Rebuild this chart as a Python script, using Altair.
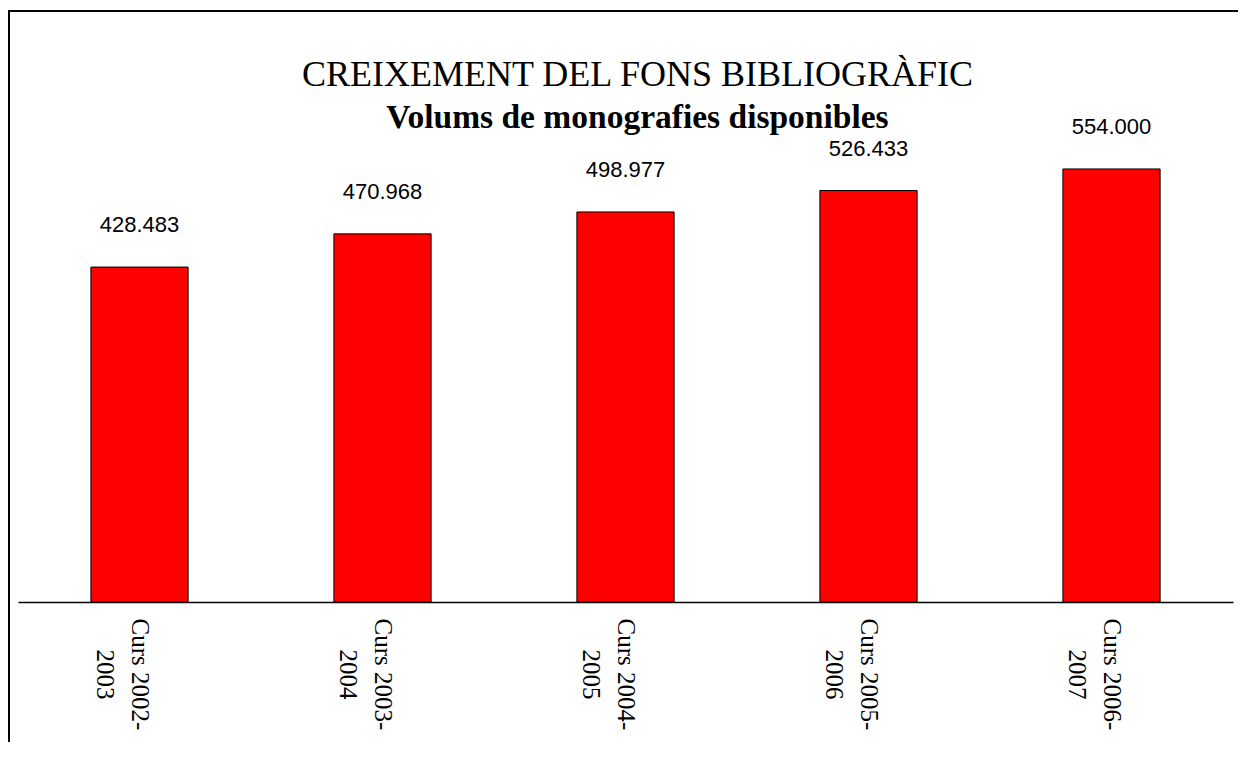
import altair as alt
import pandas as pd

categories = ["Curs 2002-2003", "Curs 2003-2004", "Curs 2004-2005", "Curs 2005-2006", "Curs 2006-2007"]
volums = [428483, 470968, 498977, 526433, 554000]

df = pd.DataFrame({"curs": categories, "volums": volums})
df["etiqueta"] = [f"{v:,}".replace(",", ".") for v in volums]

W, H = 1215, 469

x = alt.X("curs:N", sort=categories, title=None,
          scale=alt.Scale(paddingInner=0.6, paddingOuter=0.3),
          axis=alt.Axis(labelAngle=90, labelAlign="center", labelBaseline="middle",
                        labelPadding=72, labelFont="Liberation Serif", labelFontSize=25,
                        labelLineHeight=35, labelColor="#000", ticks=False,
                        domainColor="#000", domainWidth=1.5,
                        labelExpr="[slice(datum.value, 0, 10), slice(datum.value, 10)]"))
y = alt.Y("volums:Q", title=None, scale=alt.Scale(domain=[0, 600000]), axis=None)

base = alt.Chart(df)
bars = base.mark_bar(color="#FF0000", stroke="#000", strokeWidth=1).encode(x=x, y=y)
labels = base.mark_text(font="Liberation Sans", fontSize=22, color="#000", dy=-35,
                        baseline="alphabetic").encode(x=x, y=y, text="etiqueta:N")

frame_df = pd.DataFrame({"k": [0]})
top_line = alt.Chart(frame_df).mark_rule(color="#000", strokeWidth=2).encode(
    x=alt.value(-12), x2=alt.value(1245), y=alt.value(-122))
left_line = alt.Chart(frame_df).mark_rule(color="#000", strokeWidth=2).encode(
    x=alt.value(-9), y=alt.value(-123), y2=alt.value(640))

chart = alt.layer(bars, labels, top_line, left_line).properties(
    width=W, height=H,
    autosize=alt.AutoSizeParams(type="none"),
    padding={"left": 10, "top": 125, "right": 5, "bottom": 140},
    title=alt.TitleParams(
        text="CREIXEMENT DEL FONS BIBLIOGRÀFIC",
        subtitle="Volums de monografies disponibles",
        font="Liberation Serif", fontSize=36, fontWeight="normal", color="#000",
        subtitleFont="Liberation Serif", subtitleFontSize=33.5, subtitleFontWeight="bold",
        subtitleColor="#000", subtitlePadding=8, anchor="middle", dx=12, offset=-126,
    ),
).configure(background="#ffffff").configure_view(stroke="transparent", strokeWidth=0)

chart.save("out.html", embed_options={"renderer": "svg", "actions": False})
